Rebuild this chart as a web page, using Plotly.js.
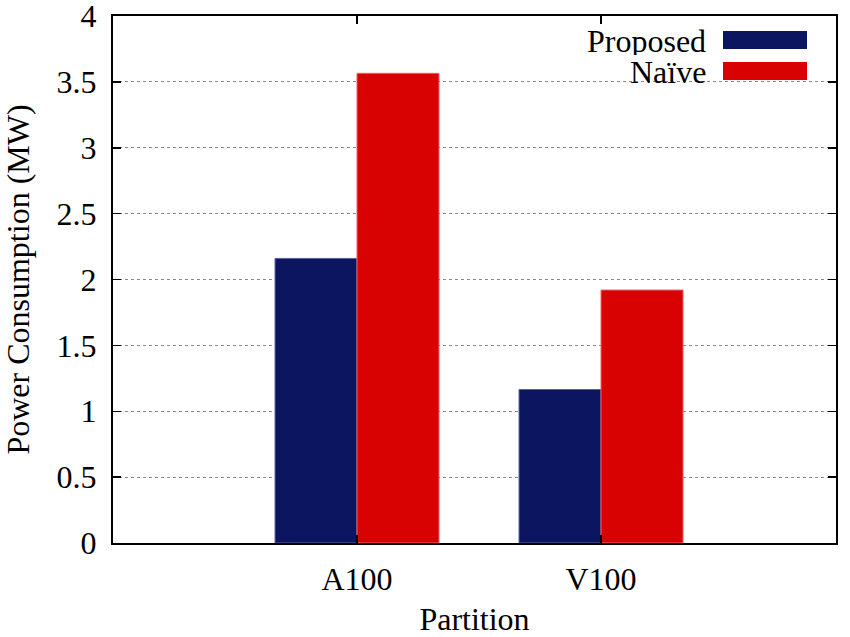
<!DOCTYPE html>
<html>
<head>
<meta charset="utf-8">
<script src="https://cdn.plot.ly/plotly-3.0.1.min.js"></script>
<style>html,body{margin:0;padding:0;background:#fff;}#chart{width:850px;height:637px;}</style>
</head>
<body>
<div id="chart"></div>
<script>
const categories = ["A100", "V100"];
const proposed = [2.16, 1.165];
const naive = [3.565, 1.92];
const seriesNames = ["Proposed", "Naïve"];
const seriesColors = ["#0c1660", "#d90202"];
const yTicks = [0, 0.5, 1, 1.5, 2, 2.5, 3, 3.5, 4];
const yTickText = ["0", "0.5", "1", "1.5", "2", "2.5", "3", "3.5", "4"];

const W = 850, H = 637;
const M = {l: 113, r: 14, t: 16, b: 94};
const pw = W - M.l - M.r, ph = H - M.t - M.b;
const px = v => (v - M.l) / pw;
const py = v => (H - M.b - v) / ph;

const font = "Liberation Serif, Times New Roman, serif";
const FS = 32;

const traces = [
  {type: "bar", name: seriesNames[0], x: categories, y: proposed,
   marker: {color: seriesColors[0], line: {color: "#5a5fa0", width: 1}}, showlegend: false},
  {type: "bar", name: seriesNames[1], x: categories, y: naive,
   marker: {color: seriesColors[1], line: {color: "#f06060", width: 1}}, showlegend: false}
];

const shapes = [
  {type: "rect", xref: "paper", yref: "paper", x0: px(552), x1: px(828), y0: py(90), y1: py(24),
   fillcolor: "#ffffff", line: {width: 0}, layer: "between"},
  {type: "rect", xref: "paper", yref: "paper", x0: px(723), x1: px(807), y0: py(49), y1: py(31),
   fillcolor: seriesColors[0], line: {width: 0}},
  {type: "rect", xref: "paper", yref: "paper", x0: px(723), x1: px(807), y0: py(80), y1: py(62),
   fillcolor: seriesColors[1], line: {width: 0}}
];

const annotations = [
  {xref: "paper", yref: "paper", x: px(707), y: py(41), text: seriesNames[0], showarrow: false,
   xanchor: "right", yanchor: "middle", height: 28, valign: "middle", borderpad: 0,
   font: {family: font, size: FS, color: "#000"}},
  {xref: "paper", yref: "paper", x: px(707), y: py(72), text: seriesNames[1], showarrow: false,
   xanchor: "right", yanchor: "middle", height: 28, valign: "middle", borderpad: 0,
   font: {family: font, size: FS, color: "#000"}}
];

const layout = {
  width: W, height: H,
  margin: M,
  paper_bgcolor: "#fff", plot_bgcolor: "#fff",
  barmode: "group", bargap: 0.328, bargroupgap: 0,
  font: {family: font, size: FS, color: "#000"},
  showlegend: false,
  xaxis: {
    type: "category", range: [-1, 1.963],
    showline: true, linecolor: "#000", linewidth: 2, mirror: "ticks",
    ticks: "inside", ticklen: 8, tickcolor: "#000", tickwidth: 1.5,
    showgrid: false, zeroline: false,
    tickfont: {family: font, size: FS}, ticklabelstandoff: 7,
    title: {text: "Partition", font: {family: font, size: FS}, standoff: 21}
  },
  yaxis: {
    range: [0, 4], tickvals: yTicks, ticktext: yTickText,
    showline: true, linecolor: "#000", linewidth: 2, mirror: "ticks",
    ticks: "inside", ticklen: 8, tickcolor: "#000", tickwidth: 1.5,
    showgrid: true, gridcolor: "#888888", gridwidth: 1, griddash: "dot",
    zeroline: false, ticklabeloverflow: "allow",
    tickfont: {family: font, size: FS}, ticklabelstandoff: 8,
    title: {text: "Power Consumption (MW)", font: {family: font, size: FS}, standoff: 18}
  },
  shapes: shapes,
  annotations: annotations
};

Plotly.newPlot("chart", traces, layout, {displayModeBar: false, staticPlot: true});
</script>
</body>
</html>
